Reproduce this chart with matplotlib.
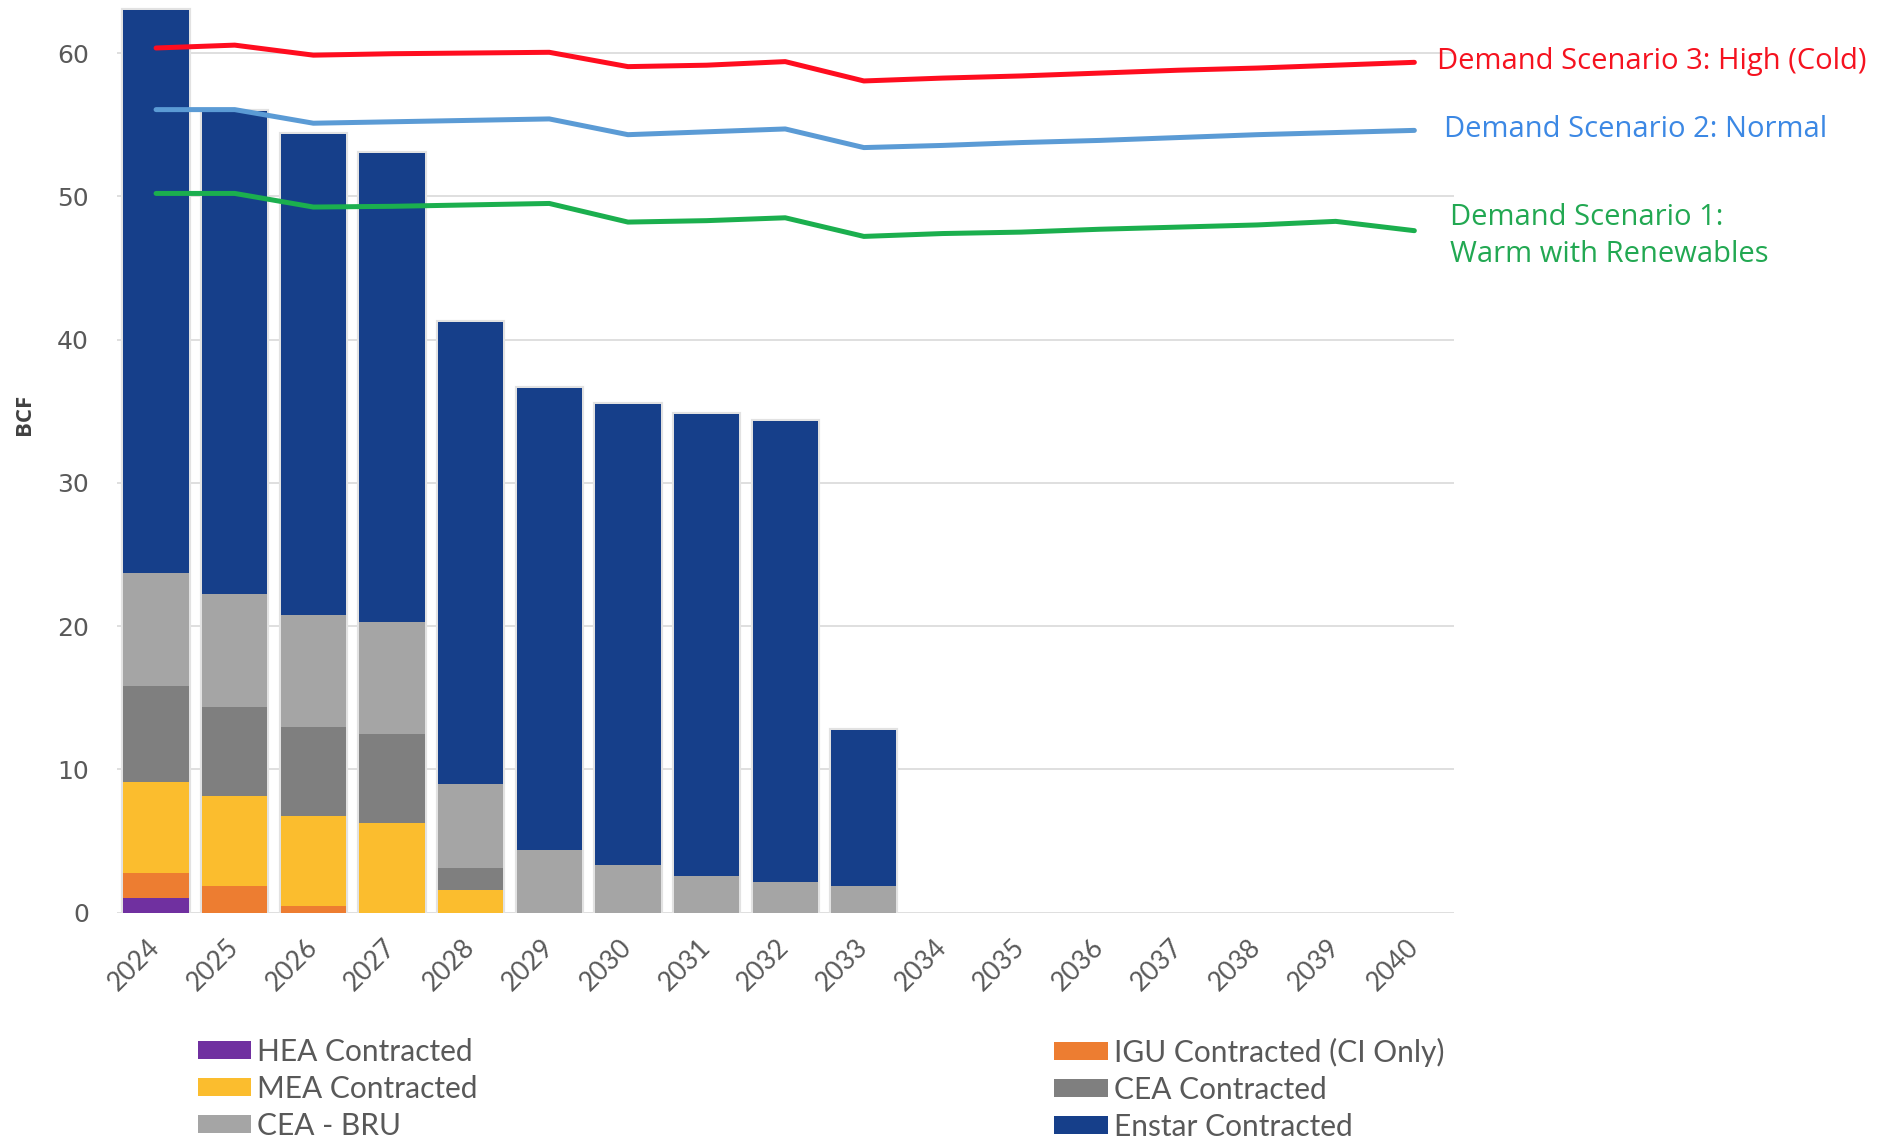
import matplotlib.pyplot as plt
import numpy as np
from matplotlib.patches import Patch

years = [str(y) for y in range(2024, 2041)]

# stacked supply segments (BCF), bottom to top
hea = [1.0, 0, 0, 0, 0, 0, 0, 0, 0, 0, 0, 0, 0, 0, 0, 0, 0]
igu = [1.8, 1.85, 0.45, 0, 0, 0, 0, 0, 0, 0, 0, 0, 0, 0, 0, 0, 0]
mea = [6.3, 6.3, 6.3, 6.25, 1.55, 0, 0, 0, 0, 0, 0, 0, 0, 0, 0, 0, 0]
cea = [6.7, 6.2, 6.2, 6.2, 1.55, 0, 0, 0, 0, 0, 0, 0, 0, 0, 0, 0, 0]
cea_bru = [7.9, 7.9, 7.8, 7.85, 5.9, 4.4, 3.3, 2.55, 2.15, 1.85, 0, 0, 0, 0, 0, 0, 0]
enstar = [39.3, 33.7, 33.6, 32.7, 32.2, 32.2, 32.2, 32.25, 32.2, 10.9, 0, 0, 0, 0, 0, 0, 0]

# demand scenarios
high = [60.35, 60.55, 59.85, 59.95, 60.0, 60.05, 59.05, 59.15, 59.4, 58.05,
        58.25, 58.4, 58.6, 58.8, 58.95, 59.15, 59.35]
normal = [56.05, 56.05, 55.1, 55.2, 55.3, 55.4, 54.3, 54.5, 54.7, 53.4,
          53.55, 53.75, 53.9, 54.1, 54.3, 54.45, 54.6]
warm = [50.2, 50.2, 49.25, 49.3, 49.4, 49.5, 48.2, 48.3, 48.5, 47.2,
        47.4, 47.5, 47.7, 47.85, 48.0, 48.25, 47.6]

series = [
    ("HEA Contracted", hea, "#7030A0"),
    ("IGU Contracted (CI Only)", igu, "#ED7D31"),
    ("MEA Contracted", mea, "#FBBD2E"),
    ("CEA Contracted", cea, "#7F7F7F"),
    ("CEA - BRU", cea_bru, "#A5A5A5"),
    ("Enstar Contracted", enstar, "#163F8A"),
]

fig = plt.figure(figsize=(18.83, 11.39), dpi=100)
ax = fig.add_axes([0.062, 0.1987, 0.710, 0.8013])

x = np.arange(len(years))
width = 0.83

# soft glow behind each non-empty bar
total = np.sum([s[1] for s in series], axis=0)
has = total > 0
ax.bar(x[has], total[has], width, color="none", edgecolor="#e2e2e2", linewidth=3, zorder=1.5)

bottom = np.zeros(len(years))
for name, vals, col in series:
    ax.bar(x, vals, width, bottom=bottom, color=col, linewidth=0, zorder=2)
    bottom += np.array(vals)

ax.plot(x, high, color="#FF0D1F", lw=3.6, solid_capstyle="round", zorder=3)
ax.plot(x, normal, color="#5B9BD5", lw=3.6, solid_capstyle="round", zorder=3)
ax.plot(x, warm, color="#1BAF4E", lw=3.6, solid_capstyle="round", zorder=3)

# scenario labels
lab_font = dict(family=["Open Sans", "DejaVu Sans"], fontsize=21, fontweight="medium",
                va="center", clip_on=False)
last = len(years) - 1
ax.text(last + 0.29, 59.42, "Demand Scenario 3: High (Cold)", color="#F5121F", **lab_font)
ax.text(last + 0.38, 54.64, "Demand Scenario 2: Normal", color="#3C88E4", **lab_font)
ax.text(last + 0.45, 48.52, "Demand Scenario 1:", color="#22A852", **lab_font)
ax.text(last + 0.45, 45.92, "Warm with Renewables", color="#22A852", **lab_font)

# axes
ax.set_xlim(-0.5, len(years) - 0.5)
ax.set_ylim(0, 63.7)
ax.set_yticks([0, 10, 20, 30, 40, 50, 60])
ax.set_xticks(x)
ax.set_xticklabels(years, rotation=45, ha="right", va="center", rotation_mode="anchor")
ax.tick_params(axis="x", length=0, pad=22, labelsize=19, labelcolor="#595959")
ax.tick_params(axis="y", length=0, pad=20, labelsize=18, labelcolor="#595959")
for lbl in ax.get_xticklabels():
    lbl.set_family(["Lato", "DejaVu Sans"])
for lbl in ax.get_yticklabels():
    lbl.set_family(["DejaVu Sans"])

ax.set_axisbelow(True)
ax.yaxis.grid(color="#d9d9d9", lw=1.2)
for sp in ax.spines.values():
    sp.set_visible(False)

fig.text(0.013, 0.636, "BCF", rotation=90, fontsize=16, fontweight="bold",
         color="#404040", va="center", ha="center", family=["Open Sans", "DejaVu Sans"])

# legend in two blocks
leg_font = dict(family=["Lato", "DejaVu Sans"], size=21.5)
left_items = [series[0], series[2], series[4]]
right_items = [series[1], series[3], series[5]]
for items, xpos in [(left_items, 0.105), (right_items, 0.560)]:
    handles = [Patch(facecolor=c, label=n) for n, _, c in items]
    leg = fig.legend(handles=handles, loc="upper left", bbox_to_anchor=(xpos, 0.089),
                     frameon=False, prop=leg_font, handlelength=1.8, handleheight=0.55,
                     handletextpad=0.2, labelspacing=0.3, borderpad=0, borderaxespad=0)
    for t in leg.get_texts():
        t.set_color("#595959")

fig.savefig("out.png", dpi=100)
